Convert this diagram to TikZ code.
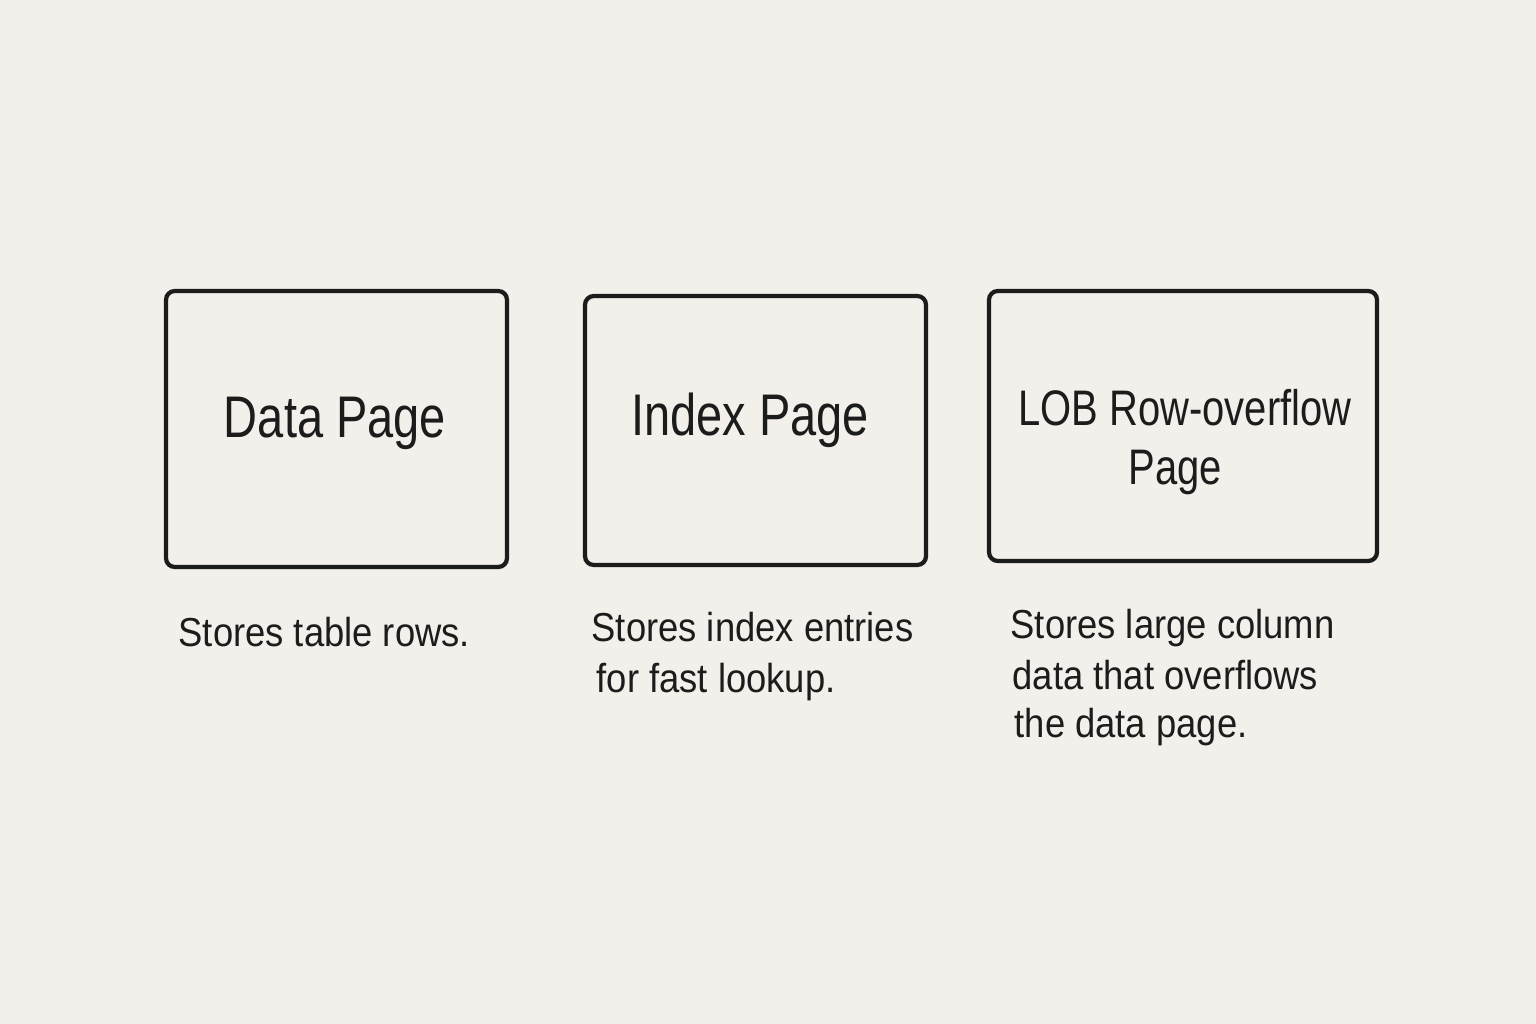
\documentclass[tikz,border=0pt]{standalone}
\usepackage{fontspec}
\newfontfamily\boxfont[FakeStretch=0.80]{Liberation Sans}
\newfontfamily\capfont[FakeStretch=0.90]{Liberation Sans}
\definecolor{paper}{HTML}{F3F0EB}
\definecolor{ink}{HTML}{1C1C1C}
\tikzset{
  pagebox/.style={draw=ink, line width=1.2pt, rounded corners=2.5pt},
  boxlabel/.style={text=ink, font=\boxfont\fontsize{16.7}{17}\selectfont, anchor=base, inner sep=0pt},
  boxlabelsmall/.style={boxlabel, font=\boxfont\fontsize{14.2}{15}\selectfont},
  caption/.style={text=ink, font=\capfont\fontsize{11.5}{14.2}\selectfont, anchor=base west, inner sep=0pt}
}
\begin{document}
\begin{tikzpicture}[x=0.01cm,y=-0.01cm]
\fill[paper] (0,0) rectangle (1536,1024);
\useasboundingbox (0,0) rectangle (1536,1024);
% boxes
\draw[pagebox] (166,291) rectangle (507,567);
\draw[pagebox] (585,296) rectangle (926,565);
\draw[pagebox] (989,291) rectangle (1377,561);
\node[boxlabel] (t1) at (335,437) {Data Page};
\node[boxlabel] (t2) at (750,435) {Index Page};
\node[boxlabelsmall] (t3a) at (1185,425) {LOB Row-overflow};
\node[boxlabelsmall] (t3b) at (1175,484) {Page};
% captions
\node[caption] (c1) at (178,646) {Stores table rows.};
\node[caption] (c2a) at (591,641) {Stores index entries};
\node[caption] (c2b) at (596,692) {for fast lookup.};
\node[caption] (c3a) at (1010,638) {Stores large column};
\node[caption] (c3b) at (1012,689) {data that overflows};
\node[caption] (c3c) at (1014,737) {the data page.};
\end{tikzpicture}
\end{document}
